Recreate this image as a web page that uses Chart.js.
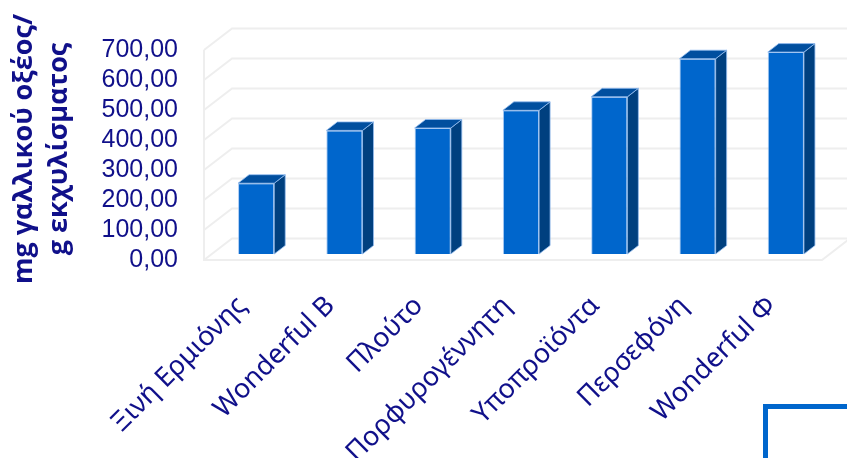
<!DOCTYPE html>
<html>
<head>
<meta charset="utf-8">
<script src="https://cdn.jsdelivr.net/npm/chart.js@4.4.0/dist/chart.umd.min.js"></script>
<style>
  html, body { margin: 0; padding: 0; background: #fff; overflow: hidden; }
  #wrap { position: relative; width: 847px; height: 458px; }
  #corner { position: absolute; left: 763px; top: 404px; width: 200px; height: 200px;
            border-left: 5px solid #0066cc; border-top: 5px solid #0066cc; }
</style>
</head>
<body>
<div id="wrap">
  <canvas id="chart" width="847" height="458"></canvas>
  <div id="corner"></div>
</div>
<script>
const categories = ['Ξινή Ερμιόνης', 'Wonderful B', 'Πλούτο', 'Πορφυρογέννητη', 'Υποπροϊόντα', 'Περσεφόνη', 'Wonderful Φ'];
const values = [236, 412, 420, 479, 524, 651, 673];
const yTickValues = [0, 100, 200, 300, 400, 500, 600, 700];
const yTickLabels = ['0,00', '100,00', '200,00', '300,00', '400,00', '500,00', '600,00', '700,00'];
const yTitle = ['mg γαλλικού οξέος/', 'g εκχυλίσματος'];

const textColor = '#10108a';
const gridColor = '#eeeeee';

// offsets of the box front plane and back wall relative to the bar front plane
const frontOff = { x: -8, y: 6 };
const backOff = { x: 20, y: -15.5 };
// bar depth
const barDx = 11, barDy = -8.5;

const box3d = {
  id: 'box3d',
  beforeDatasetsDraw(chart) {
    const ctx = chart.ctx;
    const y = chart.scales.y;
    const { left, right } = chart.chartArea;
    ctx.save();
    ctx.strokeStyle = gridColor;
    ctx.lineWidth = 2;
    ctx.beginPath();
    yTickValues.forEach(v => {
      const py = y.getPixelForValue(v);
      ctx.moveTo(left + frontOff.x, py + frontOff.y);
      ctx.lineTo(left + backOff.x, py + backOff.y);
      ctx.lineTo(right + backOff.x, py + backOff.y);
    });
    const top = y.getPixelForValue(yTickValues[yTickValues.length - 1]);
    const bot = y.getPixelForValue(0);
    ctx.moveTo(left + frontOff.x, top + frontOff.y);
    ctx.lineTo(left + frontOff.x, bot + frontOff.y);
    ctx.lineTo(right + frontOff.x, bot + frontOff.y);
    ctx.lineTo(right + backOff.x, bot + backOff.y);
    ctx.stroke();
    ctx.restore();
  },
  afterDatasetsDraw(chart) {
    const ctx = chart.ctx;
    const meta = chart.getDatasetMeta(0);
    ctx.save();
    ctx.lineWidth = 1;
    ctx.strokeStyle = 'rgba(150,190,240,0.8)';
    meta.data.forEach(bar => {
      const { x, y, width, base } = bar.getProps(['x', 'y', 'width', 'base'], true);
      const l = x - width / 2, r = x + width / 2;
      // side
      ctx.fillStyle = '#00407f';
      ctx.beginPath();
      ctx.moveTo(r, y);
      ctx.lineTo(r + barDx, y + barDy);
      ctx.lineTo(r + barDx, base + barDy);
      ctx.lineTo(r, base);
      ctx.closePath();
      ctx.fill();
      ctx.stroke();
      // top
      ctx.fillStyle = '#014f9f';
      ctx.beginPath();
      ctx.moveTo(l, y);
      ctx.lineTo(l + barDx, y + barDy);
      ctx.lineTo(r + barDx, y + barDy);
      ctx.lineTo(r, y);
      ctx.closePath();
      ctx.fill();
      ctx.stroke();
    });
    ctx.restore();
  }
};

new Chart(document.getElementById('chart'), {
  type: 'bar',
  data: {
    labels: categories,
    datasets: [{
      data: values,
      backgroundColor: '#0066cc',
      borderColor: 'rgba(150,190,240,0.8)',
      borderWidth: 1,
      barPercentage: 0.41,
      categoryPercentage: 1
    }]
  },
  options: {
    responsive: false,
    animation: false,
    devicePixelRatio: 1,
    layout: { padding: { top: 44, right: 17, left: 0, bottom: 0 } },
    plugins: { legend: { display: false }, tooltip: { enabled: false } },
    scales: {
      y: {
        min: 0,
        max: 700,
        afterFit(s) { s.width = 212; },
        afterBuildTicks(s) { s.ticks = yTickValues.map(v => ({ value: v })); },
        grid: { display: false },
        border: { display: false },
        ticks: {
          autoSkip: false,
          padding: 26,
          labelOffset: 6,
          color: textColor,
          font: { family: 'Liberation Sans', size: 25, lineHeight: 1 },
          callback: (v, i) => yTickLabels[i]
        },
        title: {
          display: true,
          text: yTitle,
          color: textColor,
          padding: { top: 7, bottom: 0 },
          font: { family: 'Open Sans', size: 27, weight: 'bold', lineHeight: 1.28 }
        }
      },
      x: {
        afterFit(s) { s.height = 204; },
        grid: { display: false },
        border: { display: false },
        ticks: {
          autoSkip: false,
          minRotation: 45,
          maxRotation: 45,
          padding: 28,
          labelOffset: -14,
          color: textColor,
          font: { family: 'Noto Sans', size: 27 }
        }
      }
    }
  },
  plugins: [box3d]
});
</script>
</body>
</html>
